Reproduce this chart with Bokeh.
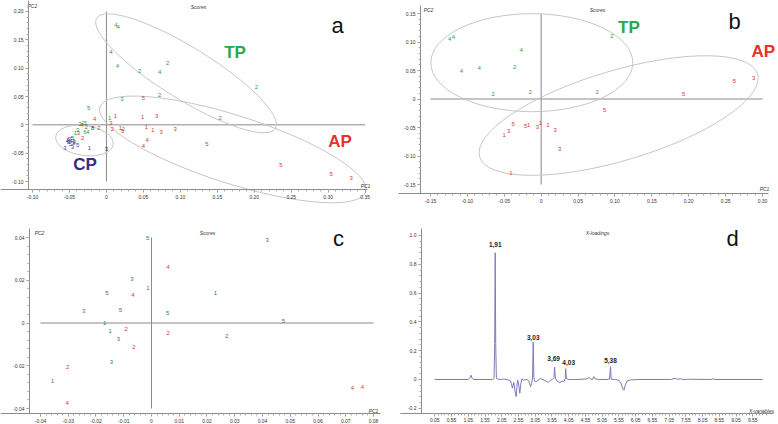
import numpy as np
from bokeh.plotting import figure
from bokeh.layouts import gridplot
from bokeh.models import Range1d, FixedTicker, ColumnDataSource
from bokeh.core.properties import value
from bokeh.embed import file_html
from bokeh.resources import INLINE

# ---------------- data ----------------
# panel a (scores, PC1 vs PC2)
a_tp_x = [0.013, 0.016, 0.006, 0.015, 0.045, 0.072, 0.083, 0.203, 0.072, 0.021, 0.154, -0.024, 0.0045, 0.023,
          -0.036, -0.031, -0.028, -0.039, -0.042, -0.029, -0.025]
a_tp_y = [0.1765, 0.172, 0.128, 0.104, 0.095, 0.094, 0.110, 0.066, 0.053, 0.045, 0.012, 0.029, 0.012, -0.008,
          0.001, 0.003, 0.004, -0.009, -0.015, -0.012, -0.012]
a_tp_l = ["4", "4", "4", "4", "2", "4", "2", "2", "2", "3", "2", "5", "1", "2",
          "3", "2", "1", "3", "1", "6", "4"]
a_ap_x = [0.050, 0.012, 0.049, 0.068, 0.006, 0.008, 0.019, 0.022, 0.054, 0.063, 0.074, 0.093, 0.055, 0.050,
          0.136, 0.236, 0.304, 0.331, -0.016, -0.010, -0.032, -0.027, -0.038, -0.033, -0.043]
a_ap_y = [0.047, 0.015, 0.013, 0.016, 0.003, -0.008, -0.005, -0.011, -0.003, -0.009, -0.013, -0.007, -0.027, -0.038,
          -0.033, -0.070, -0.087, -0.094, 0.010, -0.005, -0.023, -0.003, -0.015, -0.001, -0.030]
a_ap_l = ["5", "1", "1", "3", "3", "2", "1", "5", "1", "1", "3", "3", "4", "4",
          "5", "5", "5", "3", "4", "2", "2", "2", "3", "4", "2"]
a_cp_x = [-0.052, -0.050, -0.048, -0.046, -0.044, -0.051, -0.049, -0.045, -0.053, -0.056, -0.046, -0.039, -0.023]
a_cp_y = [-0.027, -0.025, -0.029, -0.024, -0.028, -0.031, -0.033, -0.032, -0.029, -0.041, -0.039, -0.036, -0.040]
a_cp_l = ["2", "3", "4", "5", "1", "2", "5", "3", "4", "3", "3", "5", "1"]
a_dk_x = [0.000, -0.0185]
a_dk_y = [-0.0435, -0.005]
a_dk_l = ["3", "8"]

# panel b
b_tp_x = [-0.124, -0.119, -0.108, -0.084, -0.027, -0.036, -0.065, -0.015, 0.096, 0.076]
b_tp_y = [0.106, 0.108, 0.050, 0.054, 0.086, 0.057, 0.008, 0.012, 0.111, 0.012]
b_tp_l = ["4", "4", "4", "4", "4", "2", "2", "2", "2", "2"]
b_ap_x = [0.262, 0.288, 0.193, 0.086, -0.038, -0.044, -0.050, -0.021, -0.017, -0.005, -0.001, 0.009, 0.019, 0.025, -0.041]
b_ap_y = [0.032, 0.037, 0.009, -0.019, -0.043, -0.056, -0.064, -0.047, -0.046, -0.049, -0.042, -0.046, -0.054, -0.087, -0.130]
b_ap_l = ["5", "3", "5", "5", "5", "3", "1", "5", "1", "3", "1", "1", "3", "3", "1"]

# panel c
c_g_x = [-0.0014, 0.0417, -0.0071, -0.0013, -0.0161, 0.0230, -0.0244, -0.0112, 0.0058, -0.0169, 0.0475,
         -0.0149, -0.0119, -0.0144, -0.0357]
c_g_y = [0.0400, 0.0388, 0.0206, 0.0164, 0.0142, 0.0140, 0.0055, 0.0062, 0.0045, 0.0002, 0.0011,
         -0.0036, -0.0073, -0.0184, -0.0273]
c_g_l = ["5", "3", "3", "1", "5", "1", "3", "5", "5", "1", "5", "1", "3", "3", "1"]
c_r_x = [0.0060, -0.0067, -0.0091, 0.0060, 0.0272, -0.0063, -0.0302, -0.0304, 0.0724, 0.0760]
c_r_y = [0.0261, 0.0131, -0.0030, -0.0045, -0.0062, -0.0114, -0.0207, -0.0373, -0.0306, -0.0300]
c_r_l = ["4", "4", "2", "2", "2", "2", "2", "4", "4", "4"]

# panel d (X-loadings)
d_x = [0.05, 1.05, 1.10, 1.13, 1.16, 1.20, 1.78, 1.82, 1.84, 1.855, 1.87, 1.89, 1.92, 2.00, 2.10, 2.20, 2.30,
       2.34, 2.37, 2.41, 2.44, 2.48, 2.51, 2.53, 2.56, 2.59, 2.62, 2.65, 2.70, 2.80, 2.86, 2.91, 2.94, 2.97,
       2.99, 3.01, 3.03, 3.08, 3.14, 3.20, 3.28, 3.36, 3.44, 3.50, 3.56, 3.61, 3.63, 3.65, 3.70, 3.78, 3.85,
       3.92, 3.95, 3.96, 3.98, 4.05, 4.30, 4.60, 4.66, 4.70, 4.76, 4.80, 4.84, 4.95, 5.20, 5.27, 5.30, 5.32,
       5.45, 5.55, 5.62, 5.67, 5.70, 5.74, 5.80, 5.90, 6.10, 7.10, 7.22, 7.30, 7.40, 7.50, 7.60, 8.30, 8.36,
       8.42, 9.85]
d_y = [0.0, 0.0, 0.012, 0.030, 0.010, 0.0, 0.0, 0.008, 0.250, 0.880, 0.250, 0.008, 0.004, 0.0, 0.002, 0.0, -0.008,
       -0.030, -0.060, -0.020, -0.070, -0.118, -0.030, -0.005, -0.040, -0.095, -0.030, 0.005, -0.004, 0.0, -0.010,
       -0.050, -0.030, 0.010, 0.260, 0.015, -0.010, -0.015, -0.004, 0.006, 0.0, -0.010, -0.020, -0.006, 0.0,
       0.012, 0.085, 0.010, -0.010, -0.022, -0.012, -0.012, 0.010, 0.075, 0.008, 0.0, 0.0, 0.004, 0.015, 0.003,
       0.0, 0.020, 0.004, 0.0, 0.0, 0.003, 0.090, 0.002, 0.0, -0.005, -0.030, -0.068, -0.075, -0.040, -0.010,
       -0.003, 0.0, 0.0, 0.008, 0.002, 0.005, -0.002, 0.002, 0.0, 0.006, 0.0, 0.0]
d_peak_x = [1.855, 2.99, 3.63, 3.96, 5.30]
d_peak_y = [0.880, 0.260, 0.085, 0.075, 0.090]
d_peak_l = ["1,91", "3,03", "3,69", "4,03", "5,38"]

# ticks
a_xt = [-0.10, -0.05, 0.0, 0.05, 0.10, 0.15, 0.20, 0.25, 0.30, 0.35]
a_xl = ["-0.10", "-0.05", "0", "0.05", "0.10", "0.15", "0.20", "0.25", "0.30", "0.35"]
a_yt = [-0.10, -0.05, 0.0, 0.05, 0.10, 0.15, 0.20]
a_yl = ["-0.10", "-0.05", "0", "0.05", "0.10", "0.15", "0.20"]
b_xt = [-0.15, -0.10, -0.05, 0.0, 0.05, 0.10, 0.15, 0.20, 0.25, 0.30]
b_xl = ["-0.15", "-0.10", "-0.05", "0", "0.05", "0.10", "0.15", "0.20", "0.25", "0.30"]
b_yt = [-0.15, -0.10, -0.05, 0.0, 0.05, 0.10, 0.15]
b_yl = ["-0.15", "-0.10", "-0.05", "0", "0.05", "0.10", "0.15"]
c_xt = [-0.04, -0.03, -0.02, -0.01, 0.0, 0.01, 0.02, 0.03, 0.04, 0.05, 0.06, 0.07, 0.08]
c_xl = ["-0.04", "-0.03", "-0.02", "-0.01", "0", "0.01", "0.02", "0.03", "0.04", "0.05", "0.06", "0.07", "0.08"]
c_yt = [-0.04, -0.02, 0.0, 0.02, 0.04]
c_yl = ["-0.04", "-0.02", "0", "0.02", "0.04"]
d_xt = [0.05, 0.55, 1.05, 1.55, 2.05, 2.55, 3.05, 3.55, 4.05, 4.55, 5.05, 5.55, 6.05, 6.55, 7.05, 7.55,
        8.05, 8.55, 9.05, 9.55]
d_xl = ["0.05", "0.55", "1.05", "1.55", "2.05", "2.55", "3.05", "3.55", "4.05", "4.55", "5.05", "5.55",
        "6.05", "6.55", "7.05", "7.55", "8.05", "8.55", "9.05", "9.55"]
d_yt = [-0.2, 0.0, 0.2, 0.4, 0.6, 0.8, 1.0]
d_yl = ["-0.2", "0", "0.2", "0.4", "0.6", "0.8", "1.0"]

# ---------------- styling ----------------
FONT = "Liberation Sans"
GREEN = "#2f9a47"
GREEN_C = "#2f7d55"
RED = "#e0352b"
PURPLE = "#4a3a9e"
DARK = "#333333"
ELL = "#c6c6c6"
AXC = "#8c8c8c"


def make(w, h, xr, yr):
    p = figure(width=w, height=h, x_range=Range1d(*xr), y_range=Range1d(*yr),
               output_backend="svg", toolbar_location=None,
               min_border_left=0, min_border_right=0, min_border_top=0, min_border_bottom=0)
    p.grid.visible = False
    p.outline_line_color = None
    return p


def axes(p, xt, xl, xm, yt, yl, ym, xfix, yfix, xb, yb):
    p.xaxis.ticker = FixedTicker(ticks=xt, minor_ticks=list(xm))
    p.xaxis.major_label_overrides = {t: l for t, l in zip(xt, xl)}
    p.yaxis.ticker = FixedTicker(ticks=yt, minor_ticks=list(ym))
    p.yaxis.major_label_overrides = {t: l for t, l in zip(yt, yl)}
    p.xaxis.fixed_location = xfix
    p.yaxis.fixed_location = yfix
    p.xaxis.bounds = xb
    p.yaxis.bounds = yb
    for ax in p.axis:
        ax.axis_line_color = AXC
        ax.major_tick_line_color = AXC
        ax.minor_tick_line_color = "#aaaaaa"
        ax.major_tick_out = 3
        ax.major_tick_in = 0
        ax.minor_tick_out = 2
        ax.minor_tick_in = 0
        ax.major_label_text_font = FONT
        ax.major_label_text_font_size = "5px"
        ax.major_label_text_color = "#333333"
        ax.major_label_standoff = 2


def txt(p, x, y, s, size, color, align="center", baseline="middle", style="normal", xo=0, yo=0):
    p.text(x=[x], y=[y], text=[s], text_font=value(FONT), text_font_size=size, text_color=color,
           text_align=align, text_baseline=baseline, text_font_style=style, x_offset=xo, y_offset=yo)


def points(p, xs, ys, ls, color):
    src = ColumnDataSource(dict(x=xs, y=ys, t=ls))
    p.text(x="x", y="y", text="t", source=src, text_font=value(FONT), text_font_size="6px",
           text_color=color, text_align="center", text_baseline="middle")


def zero_lines(p, xt, yt):
    p.segment(x0=[xt[0], 0], y0=[0, yt[0]], x1=[xt[-1], 0], y1=[0, yt[-1]], line_color="#8a8a8a", line_width=1)


def ell(p, cx, cy, w, h, ang):
    p.ellipse(x=[cx], y=[cy], width=[w], height=[h], angle=[ang], angle_units="deg",
              width_units="screen", height_units="screen", fill_color=None, line_color=ELL, line_width=1)


def small(p, x, y, s, align="center"):
    txt(p, x, y, s, "5px", "#333333", align=align, style="italic")


# ---------------- panel a ----------------
pa = make(385, 205, (-0.14328, 0.37749), (-0.14233, 0.21941))
axes(pa, a_xt, a_xl, np.arange(-0.10, 0.3501, 0.01), a_yt, a_yl, np.arange(-0.10, 0.2001, 0.01),
     -0.1141, -0.10541, (-0.14328, 0.3531), (-0.1141, 0.21941))
zero_lines(pa, a_xt, a_yt)
ell(pa, 0.1077, 0.0909, 210, 52, -31.7)
ell(pa, 0.171, -0.0434, 279, 68, -17.7)
ell(pa, -0.0297, -0.0276, 58, 30, -8)
points(pa, a_tp_x, a_tp_y, a_tp_l, GREEN)
points(pa, a_ap_x, a_ap_y, a_ap_l, RED)
points(pa, a_cp_x, a_cp_y, a_cp_l, PURPLE)
points(pa, a_dk_x, a_dk_y, a_dk_l, DARK)
txt(pa, 0.174, 0.128, "TP", "17px", "#2aa84a", style="bold")
txt(pa, 0.316, -0.030, "AP", "17px", "#e5342a", style="bold")
txt(pa, -0.029, -0.070, "CP", "17px", "#3a2a85", style="bold")
txt(pa, 0.3126, 0.1753, "a", "22px", "#111111")
small(pa, -0.10676, 0.20935, "PC2", align="left")
small(pa, 0.12454, 0.20880, "Scores")
small(pa, 0.35043, -0.10704, "PC1")

# ---------------- panel b ----------------
pb = make(393, 205, (-0.21099, 0.32167), (-0.18684, 0.17281))
axes(pb, b_xt, b_xl, np.arange(-0.15, 0.3001, 0.01), b_yt, b_yl, np.arange(-0.15, 0.1501, 0.01),
     -0.16579, -0.16355, (-0.19337, 0.30812), (-0.16579, 0.16400))
zero_lines(pb, b_xt, b_yt)
ell(pb, -0.0127, 0.0637, 202, 98, 0)
ell(pb, 0.105, -0.029, 290, 90, 16.6)
points(pb, b_tp_x, b_tp_y, b_tp_l, GREEN)
points(pb, b_ap_x, b_ap_y, b_ap_l, RED)
txt(pb, 0.119, 0.126, "TP", "17px", "#2aa84a", style="bold")
txt(pb, 0.301, 0.083, "AP", "17px", "#e5342a", style="bold")
txt(pb, 0.26203, 0.13597, "b", "22px", "#111111")
small(pb, -0.15271, 0.15649, "PC2")
small(pb, 0.07635, 0.15649, "Scores")
small(pb, 0.30270, -0.15825, "PC1")

# ---------------- panel c ----------------
pc = make(385, 219, (-0.054414, 0.084324), (-0.047485, 0.054971))
axes(pc, c_xt, c_xl, np.arange(-0.04, 0.0801, 0.002), c_yt, c_yl, np.arange(-0.04, 0.0401, 0.004),
     -0.042339, -0.043964, (-0.054414, 0.08252), (-0.042339, 0.0440))
zero_lines(pc, c_xt, c_yt)
points(pc, c_g_x, c_g_y, c_g_l, GREEN_C)
points(pc, c_r_x, c_r_y, c_r_l, RED)
txt(pc, 0.067389, 0.039533, "c", "22px", "#111111")
small(pc, -0.040360, 0.041872, "PC2")
small(pc, 0.020180, 0.041872, "Scores")
small(pc, 0.079999, -0.040936, "PC1")

# ---------------- panel d ----------------
pd_ = make(393, 219, (-1.4230, 10.3188), (-0.31250, 1.20833))
axes(pd_, d_xt, d_xl, np.arange(0.05, 9.96, 0.1), d_yt, d_yl, np.arange(-0.2, 1.001, 0.04),
     -0.23611, -0.3474, (-0.9748, 10.1695), (-0.23611, 1.0486))
pd_.line(d_x, d_y, line_color="#7b7bb8", line_width=1)
lab_dx = [0, 0, -1, 3, 0]
lab_dy = [-8, -5, -9, -6, -6]
for px_, py_, pl_, dx_, dy_ in zip(d_peak_x, d_peak_y, d_peak_l, lab_dx, lab_dy):
    txt(pd_, px_, py_, pl_, "6.5px", "#222222", style="bold", xo=dx_, yo=dy_)
txt(pd_, 8.9444, 0.97917, "d", "22px", "#111111")
small(pd_, 4.9111, 1.02083, "X-loadings")
small(pd_, 9.8108, -0.21528, "X-variables")

grid = gridplot([[pa, pb], [pc, pd_]], toolbar_location=None)
open("out.html", "w").write(file_html(grid, INLINE))
